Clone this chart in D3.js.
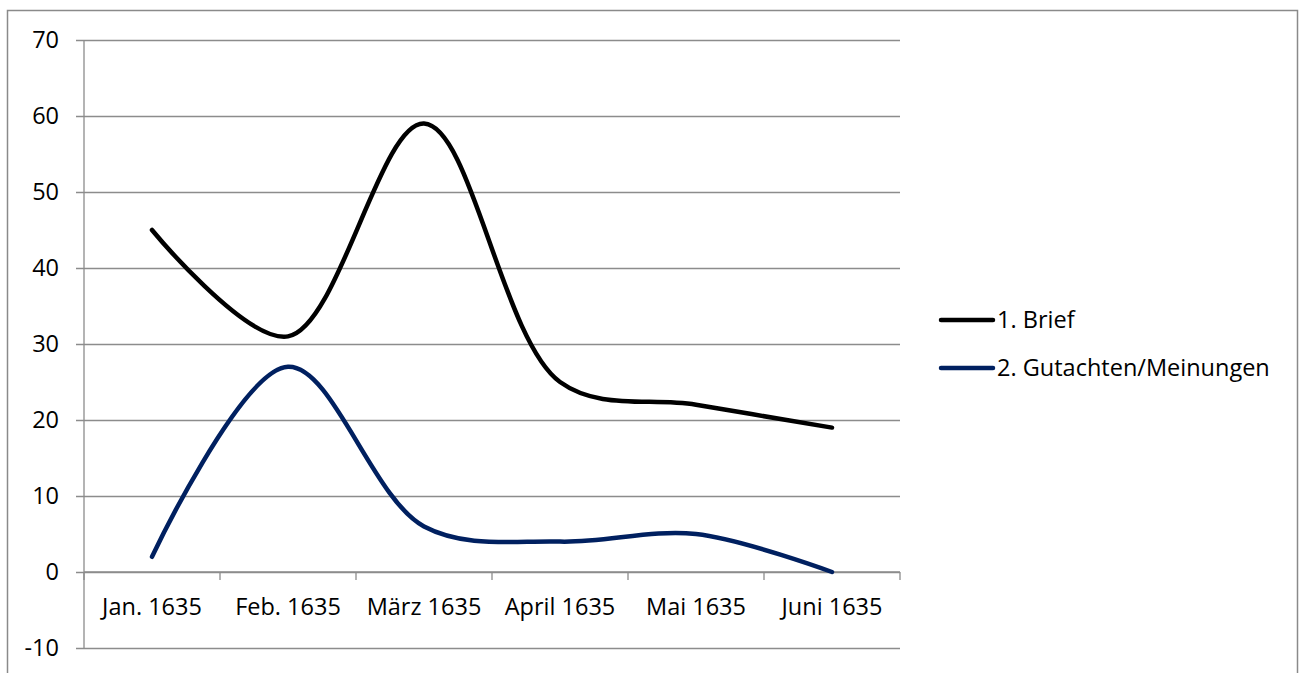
<!DOCTYPE html>
<html>
<head>
<meta charset="utf-8">
<script src="https://cdn.jsdelivr.net/npm/d3@7"></script>
<style>
  html, body { margin: 0; padding: 0; background: #fff; }
  svg { display: block; font-family: "Open Sans", "Noto Sans", sans-serif; }
</style>
</head>
<body>
<svg id="chart" width="1303" height="673"></svg>
<script>
// Monthly counts of documents by type, 1635
const months = ["Jan. 1635", "Feb. 1635", "März 1635", "April 1635", "Mai 1635", "Juni 1635"];
const briefValues = [45, 31, 59, 25, 22, 19];
const gutachtenValues = [2, 27, 6, 4, 5, 0];
const seriesNames = ["1. Brief", "2. Gutachten/Meinungen"];
const seriesColors = ["#000000", "#002060"];
const yTicks = [-10, 0, 10, 20, 30, 40, 50, 60, 70];

const series = [
  { name: seriesNames[0], color: seriesColors[0], values: briefValues },
  { name: seriesNames[1], color: seriesColors[1], values: gutachtenValues }
];

const svg = d3.select("#chart");
const plotLeft = 84, plotRight = 900, plotTop = 40, plotBottom = 648;
const fontSize = 23.5;

// outer chart frame
svg.append("rect")
  .attr("x", 7.5).attr("y", 10.5)
  .attr("width", 1290).attr("height", 700)
  .attr("fill", "none").attr("stroke", "#8a8a8a").attr("stroke-width", 1.5);

const x = d3.scaleBand().domain(months).range([plotLeft, plotRight]).padding(0);
const y = d3.scaleLinear().domain([-10, 70]).range([plotBottom, plotTop]);

// horizontal gridlines with short outer ticks
const yAxis = d3.axisLeft(y).tickValues(yTicks).tickSize(-(plotRight - plotLeft)).tickPadding(25).tickFormat(d => String(d));
const gy = svg.append("g").attr("transform", `translate(${plotLeft},0)`).call(yAxis);
gy.select(".domain").remove();
gy.selectAll(".tick line").attr("x1", -8).attr("stroke", "#8c8c8c").attr("stroke-width", 1.3);
gy.selectAll(".tick text").attr("font-size", fontSize).attr("fill", "#000")
  .attr("font-family", "'Open Sans', 'Noto Sans', sans-serif");

// vertical axis line
svg.append("line")
  .attr("x1", plotLeft).attr("x2", plotLeft).attr("y1", y(70)).attr("y2", y(-10))
  .attr("stroke", "#8c8c8c").attr("stroke-width", 1.3);

// category axis at zero
const boundaries = months.map(m => x(m)).concat([plotRight]);
const gx = svg.append("g");
gx.append("line")
  .attr("x1", plotLeft).attr("x2", plotRight).attr("y1", y(0)).attr("y2", y(0))
  .attr("stroke", "#8c8c8c").attr("stroke-width", 1.3);
gx.selectAll("line.tick").data(boundaries).join("line")
  .attr("class", "tick")
  .attr("x1", d => d).attr("x2", d => d)
  .attr("y1", y(0)).attr("y2", y(0) + 8)
  .attr("stroke", "#8c8c8c").attr("stroke-width", 1.3);
gx.selectAll("text").data(months).join("text")
  .attr("x", d => x(d) + x.bandwidth() / 2)
  .attr("y", y(0) + 35)
  .attr("dy", "0.35em")
  .attr("text-anchor", "middle")
  .attr("font-size", fontSize)
  .attr("fill", "#000")
  .text(d => d);

// smoothed series lines
const line = d3.line()
  .x((d, i) => x(months[i]) + x.bandwidth() / 2)
  .y(d => y(d))
  .curve(d3.curveCatmullRom.alpha(0.5));

svg.selectAll("path.series").data(series).join("path")
  .attr("class", "series")
  .attr("d", d => line(d.values))
  .attr("fill", "none")
  .attr("stroke", d => d.color)
  .attr("stroke-width", 4.5)
  .attr("stroke-linecap", "round")
  .attr("stroke-linejoin", "round");

// legend
const legend = svg.append("g").selectAll("g").data(series).join("g")
  .attr("transform", (d, i) => `translate(941,${320 + i * 48})`);
legend.append("line")
  .attr("x1", 0).attr("x2", 52)
  .attr("stroke", d => d.color).attr("stroke-width", 4.5).attr("stroke-linecap", "round");
legend.append("text")
  .attr("x", 56).attr("dy", "0.35em")
  .attr("font-size", fontSize).attr("fill", "#000")
  .text(d => d.name);
</script>
</body>
</html>
